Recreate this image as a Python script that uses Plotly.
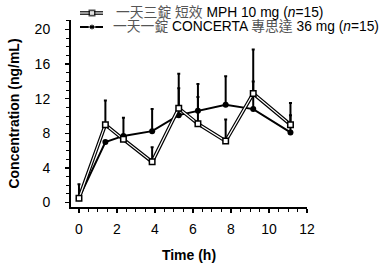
import plotly.graph_objects as go

# ---- data ----
time_h = [0, 1.39, 2.34, 3.85, 5.25, 6.26, 7.72, 9.17, 11.13]
ir_mph = [0.5, 9.0, 7.3, 4.7, 10.9, 9.1, 7.1, 12.6, 9.0]
ir_err = [1.6, 2.8, 0, 1.7, 4.0, 4.6, 2.5, 5.1, 2.5]
concerta = [0.5, 7.0, 7.7, 8.25, 10.1, 10.6, 11.3, 10.8, 8.1]
concerta_err = [0, 0, 2.1, 2.55, 3.1, 1.6, 3.3, 3.2, 2.0]
zeros = [0] * len(time_h)

x_ticks = [0, 2, 4, 6, 8, 10, 12]
y_ticks = [0, 4, 8, 12, 16, 20]

legend_ir = "<span style='color:#555'>一天三錠 短效</span> MPH 10 mg (<i>n</i>=15)"
legend_oros = ("<span style='color:#555'>一天一錠</span> CONCERTA "
               "<span style='color:#555'>專思達</span> 36 mg (<i>n</i>=15)")

W, H = 384, 265
L, R, T, B = 71, 307, 20, 207  # plot area in page px

FONT = "Arial, Liberation Sans, Noto Sans CJK TC, sans-serif"

fig = go.Figure()

# CONCERTA: solid line, filled circles
fig.add_trace(go.Scatter(
    x=time_h, y=concerta, mode="lines+markers",
    line=dict(color="black", width=2),
    marker=dict(symbol="circle", size=6, color="black"),
    error_y=dict(type="data", symmetric=False, array=concerta_err,
                 arrayminus=zeros, color="black", thickness=2, width=1.5),
    showlegend=False, cliponaxis=False))

# IR MPH: double line (black outline + white core), open squares
fig.add_trace(go.Scatter(
    x=time_h, y=ir_mph, mode="lines",
    line=dict(color="black", width=3.6),
    error_y=dict(type="data", symmetric=False, array=ir_err,
                 arrayminus=zeros, color="black", thickness=2, width=1.5),
    showlegend=False, cliponaxis=False))
fig.add_trace(go.Scatter(
    x=time_h, y=ir_mph, mode="lines+markers",
    line=dict(color="white", width=1.2),
    marker=dict(symbol="square", size=5.5, color="white",
                line=dict(color="black", width=1.5)),
    showlegend=False, cliponaxis=False))

# ---- manual legend on a pixel overlay axis (page px) ----
leg_y = [13, 27]
fig.add_trace(go.Scatter(x=[80, 103], y=[leg_y[0]] * 2, mode="lines",
                         line=dict(color="black", width=3.6),
                         xaxis="x2", yaxis="y2", showlegend=False))
fig.add_trace(go.Scatter(x=[80, 92, 103], y=[leg_y[0]] * 3, mode="lines+markers",
                         line=dict(color="white", width=1.2),
                         marker=dict(symbol="square", size=[0, 5.5, 0], color="white",
                                     line=dict(color="black", width=1.5)),
                         xaxis="x2", yaxis="y2", showlegend=False))
fig.add_trace(go.Scatter(x=[80, 92, 103], y=[leg_y[1]] * 3, mode="lines+markers",
                         line=dict(color="black", width=2),
                         marker=dict(symbol="circle", size=[0, 6, 0], color="black"),
                         xaxis="x2", yaxis="y2", showlegend=False))
for txt, xx, yy in zip([legend_ir, legend_oros], [115, 112], leg_y):
    fig.add_annotation(text=txt, x=xx / W, y=1 - yy / H,
                       xref="paper", yref="paper", xanchor="left", yanchor="middle",
                       showarrow=False, borderpad=0,
                       font=dict(size=13.8, color="black", family=FONT))

fig.update_layout(
    width=W, height=H,
    margin=dict(l=0, r=0, t=0, b=0),
    paper_bgcolor="white", plot_bgcolor="rgba(0,0,0,0)",
    font=dict(family=FONT, color="black", size=14),
    xaxis=dict(domain=[L / W, R / W], range=[-0.42, 12], automargin=False,
               tickvals=x_ticks, showline=True, linecolor="black", linewidth=2,
               ticks="outside", ticklen=4, tickwidth=1.5, tickcolor="black",
               minor=dict(dtick=0.5, ticks="outside", ticklen=3, tickcolor="black", tickwidth=1),
               showgrid=False, zeroline=False, ticklabelstandoff=4,
               title=dict(text="<b>Time (h)</b>", font=dict(size=14), standoff=14)),
    yaxis=dict(domain=[1 - B / H, 1 - T / H], range=[-0.52, 21.1], automargin=False,
               tickvals=y_ticks, showline=True, linecolor="black", linewidth=2,
               ticks="outside", ticklen=4, tickwidth=1.5, tickcolor="black",
               minor=dict(dtick=1, ticks="outside", ticklen=3, tickcolor="black", tickwidth=1),
               showgrid=False, zeroline=False, ticklabelstandoff=12,
               title=dict(text="<b>Concentration (ng/mL)</b>", font=dict(size=14), standoff=12)),
    xaxis2=dict(domain=[0, 1], range=[0, W], visible=False, automargin=False,
                anchor="y2", fixedrange=True),
    yaxis2=dict(domain=[0, 1], range=[H, 0], visible=False, automargin=False,
                anchor="x2", fixedrange=True),
)

# remove the browser's default 8px body margin so the figure fills the window
fig.write_html("out.html",
               config={"displayModeBar": False, "staticPlot": True},
               post_script="document.body.style.margin='0';document.body.style.overflow='hidden';")
